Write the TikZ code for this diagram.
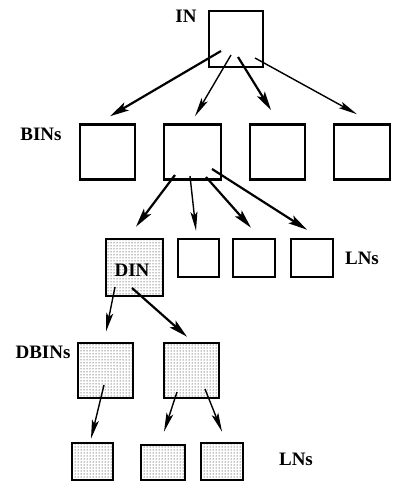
\documentclass[tikz,border=0pt]{standalone}
\usepackage{fontspec}
\setmainfont{Liberation Serif}
\usetikzlibrary{arrows.meta,patterns}
\begin{document}
\begin{tikzpicture}[x=1pt,y=-1pt,
  box/.style={draw,line width=2.6pt,inner sep=0pt,fill=white},
  dbox/.style={box,postaction={pattern=dots}},
  lbl/.style={font=\fontsize{19}{19}\selectfont\bfseries,inner sep=0pt},
  thk/.style={line width=2.2pt,-{Stealth[length=19pt,width=9pt,inset=4pt]}},
  thn/.style={line width=1.4pt,-{Stealth[length=19pt,width=7pt,inset=4pt]}}]
  \useasboundingbox (0,0) rectangle (393,483);
  \node[box,minimum width=54pt,minimum height=56pt] (in) at (236,39) {};
  \node[box,minimum width=55pt,minimum height=55pt] (bin1) at (107.5,152) {};
  \node[box,minimum width=57pt,minimum height=55pt] (bin2) at (192.5,152) {};
  \node[box,minimum width=55pt,minimum height=55pt] (bin3) at (277.5,152) {};
  \node[box,minimum width=56pt,minimum height=55pt] (bin4) at (362,152) {};
  \node[dbox,minimum width=57pt,minimum height=57pt] (din) at (134.5,267.5) {};
  \node[box,minimum width=41pt,minimum height=38pt] (ln1) at (198.5,258) {};
  \node[box,minimum width=42pt,minimum height=38pt] (ln2) at (254,258) {};
  \node[box,minimum width=42pt,minimum height=38pt] (ln3) at (312,258) {};
  \node[dbox,minimum width=55pt,minimum height=55pt] (dbin1) at (105.5,370.5) {};
  \node[dbox,minimum width=55pt,minimum height=55pt] (dbin2) at (191.5,370.5) {};
  \node[dbox,minimum width=41pt,minimum height=37pt] (lf1) at (92.5,461.5) {};
  \node[dbox,minimum width=44pt,minimum height=35pt] (lf2) at (163,462.5) {};
  \node[dbox,minimum width=42pt,minimum height=37pt] (lf3) at (222,461.5) {};

  \node[lbl] (inlbl) at (186,16) {IN};
  \node[lbl] (binlbl) at (41,134) {BINs};
  \node[lbl] (dinlbl) at (132,270) {DIN};
  \node[lbl] (lnlbl) at (362,258) {LNs};
  \node[lbl] (dbinlbl) at (43,352) {DBINs};
  \node[lbl] (lflbl) at (296,459) {LNs};

  \draw[thk] ([shift={(-15,12)}]in.center) -- ([shift={(2.5,-7)}]bin1.north);
  \draw[thn] ([shift={(-5,16)}]in.center) -- ([shift={(2.5,-7)}]bin2.north);
  \draw[thk] ([shift={(2,18)}]in.center) -- ([shift={(-6.5,-13)}]bin3.north);
  \draw[thn] ([shift={(19,19)}]in.center) -- ([shift={(-5,-9)}]bin4.north);

  \draw[thk] ([shift={(-17.5,23)}]bin2.center) -- ([shift={(1.5,-11)}]din.north);
  \draw[thn] ([shift={(-2.5,24)}]bin2.center) -- ([shift={(-2.5,-7)}]ln1.north);
  \draw[thk] ([shift={(13.5,25)}]bin2.center) -- ([shift={(-3,-10)}]ln2.north);
  \draw[thk] ([shift={(19.5,17)}]bin2.center) -- ([shift={(-5,-8)}]ln3.north);

  \draw[thn] ([shift={(-19.5,19.5)}]din.center) -- ([shift={(0.5,-10)}]dbin1.north);
  \draw[thk] ([shift={(-2.5,20.5)}]din.center) -- ([shift={(-4.5,-5)}]dbin2.north);

  \draw[thn] ([shift={(-1.5,14.5)}]dbin1.center) -- ([shift={(-1.5,-3)}]lf1.north);
  \draw[thn] ([shift={(-14.5,21.5)}]dbin2.center) -- ([shift={(1,-12)}]lf2.north);
  \draw[thn] ([shift={(13.5,18.5)}]dbin2.center) -- ([shift={(0,-10)}]lf3.north);
\end{tikzpicture}
\end{document}
